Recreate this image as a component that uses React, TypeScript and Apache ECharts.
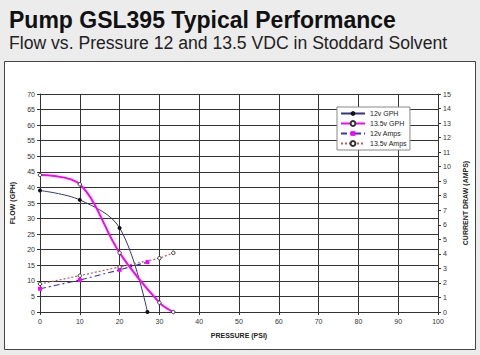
import React, { useEffect, useRef } from "react";
import * as echarts from "echarts";

const pressure12Gph = [0, 10, 20, 27];
const flow12Gph = [39, 36, 27, 0];
const pressure135Gph = [0, 10, 20, 30, 33.5];
const flow135Gph = [44, 41, 19, 3, 0];
const pressure12Amps = [0, 10, 20, 27];
const amps12 = [1.6, 2.2, 2.9, 3.43];
const pressure135Amps = [0, 10, 20, 30, 33.5];
const amps135 = [1.93, 2.5, 3.1, 3.7, 4.07];
const seriesNames = ["12v GPH", "13.5v GPH", "12v Amps", "13.5v Amps"];

const zip = (xs: number[], ys: number[]) => xs.map((x, i) => [x, ys[i]]);

export default function App() {
  const ref = useRef<HTMLDivElement>(null);
  useEffect(() => {
    const chart = echarts.init(ref.current!, undefined, { renderer: "svg" });
    const font = "Liberation Sans";
    chart.setOption({
      animation: false,
      backgroundColor: "#ececec",
      textStyle: { fontFamily: font },
      title: [
        {
          text: "Pump GSL395 Typical Performance",
          left: 4,
          top: 3,
          textStyle: { fontSize: 23, fontWeight: "bold", color: "#111", fontFamily: font },
        },
        {
          text: "Flow vs. Pressure 12 and 13.5 VDC in Stoddard Solvent",
          left: 4,
          top: 29,
          textStyle: { fontSize: 17.6, fontWeight: "normal", color: "#222", fontFamily: font },
        },
      ],
      graphic: [
        {
          type: "rect",
          shape: { x: 4.5, y: 61.5, width: 471, height: 288 },
          style: { fill: "#fff", stroke: "#444", lineWidth: 1 },
          z: -10,
        },
      ],
      grid: { left: 40, right: 42, top: 94, bottom: 43 },
      legend: {
        orient: "vertical",
        left: 337,
        top: 107,
        backgroundColor: "#fff",
        borderColor: "#888",
        borderWidth: 1,
        padding: [3, 3, 3, 3],
        itemGap: 3,
        itemWidth: 24,
        itemHeight: 6,
        textStyle: { fontSize: 7, color: "#222" },
        data: seriesNames,
      },
      xAxis: {
        type: "value",
        min: 0,
        max: 100,
        interval: 10,
        name: "PRESSURE (PSI)",
        nameLocation: "middle",
        nameGap: 20,
        nameTextStyle: { fontSize: 7, fontWeight: "bold", color: "#222" },
        axisLine: { lineStyle: { color: "#333" } },
        axisTick: { show: true, length: 3, lineStyle: { color: "#333" } },
        axisLabel: { fontSize: 7, color: "#333", margin: 6 },
        splitLine: { show: true, lineStyle: { color: "#333", width: 1 } },
      },
      yAxis: [
        {
          type: "value",
          min: 0,
          max: 70,
          interval: 5,
          name: "FLOW (GPH)",
          nameLocation: "middle",
          nameGap: 18,
          nameRotate: 90,
          nameTextStyle: { fontSize: 7, fontWeight: "bold", color: "#222" },
          axisLine: { show: true, lineStyle: { color: "#333" } },
          axisTick: { show: true, length: 3, lineStyle: { color: "#333" } },
          axisLabel: { fontSize: 7, color: "#333", margin: 5 },
          splitLine: { show: true, lineStyle: { color: "#333", width: 1 } },
        },
        {
          type: "value",
          min: 0,
          max: 15,
          interval: 1,
          position: "right",
          name: "CURRENT DRAW (AMPS)",
          nameLocation: "middle",
          nameGap: 17,
          nameRotate: 90,
          nameTextStyle: { fontSize: 7, fontWeight: "bold", color: "#222" },
          axisLine: { show: true, lineStyle: { color: "#333" } },
          axisTick: { show: true, length: 3, lineStyle: { color: "#333" } },
          axisLabel: { fontSize: 7, color: "#333", margin: 5 },
          splitLine: { show: false },
        },
      ],
      series: [
        {
          name: seriesNames[0],
          type: "line",
          yAxisIndex: 0,
          smooth: 0.35,
          data: zip(pressure12Gph, flow12Gph),
          symbol: "circle",
          symbolSize: 4,
          itemStyle: { color: "#111" },
          lineStyle: { color: "#333380", width: 1 },
        },
        {
          name: seriesNames[1],
          type: "line",
          yAxisIndex: 0,
          smooth: 0.35,
          data: zip(pressure135Gph, flow135Gph),
          symbol: "circle",
          symbolSize: 3.5,
          itemStyle: { color: "#fff", borderColor: "#333", borderWidth: 1 },
          lineStyle: { color: "#ff00ff", width: 2 },
        },
        {
          name: seriesNames[2],
          type: "line",
          yAxisIndex: 1,
          data: zip(pressure12Amps, amps12),
          symbol: "rect",
          symbolSize: 4,
          itemStyle: { color: "#ff00ff" },
          lineStyle: { color: "#3333cc", width: 1.2, type: [6, 3, 2, 3] },
        },
        {
          name: seriesNames[3],
          type: "line",
          yAxisIndex: 1,
          data: zip(pressure135Amps, amps135),
          symbol: "circle",
          symbolSize: 3.5,
          itemStyle: { color: "#fff", borderColor: "#333", borderWidth: 1 },
          lineStyle: { color: "#cc5555", width: 1.2, type: [2, 2] },
        },
      ],
    });
    return () => chart.dispose();
  }, []);
  return (
    <div
      ref={ref}
      style={{ position: "fixed", left: 0, top: 0, width: 480, height: 355 }}
    />
  );
}
